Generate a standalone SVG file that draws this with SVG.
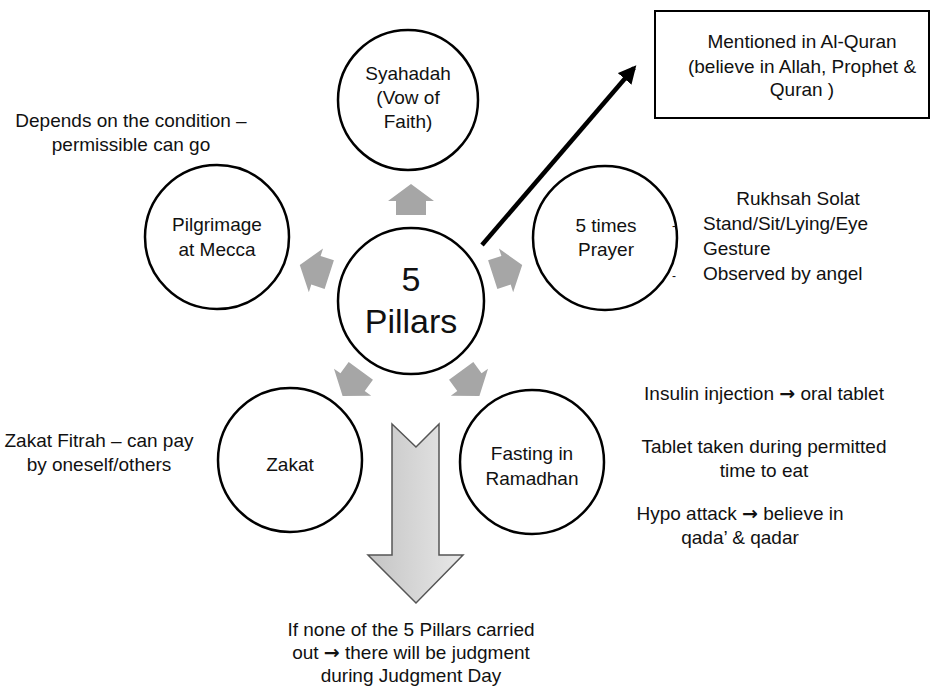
<svg xmlns="http://www.w3.org/2000/svg" width="934" height="693" viewBox="0 0 934 693">
<style>
text{font-family:"Liberation Sans",Arial,sans-serif;font-size:19px;fill:#111;}
.c{text-anchor:middle;}
.ar{font-family:"DejaVu Sans",sans-serif;font-weight:bold;}
.node{fill:#fff;stroke:#000;stroke-width:2.5;}
.ga{fill:#a6a6a6;}
</style>
<defs>
<marker id="ah" viewBox="0 0 10 10" refX="8" refY="5" markerWidth="4" markerHeight="4" orient="auto" markerUnits="strokeWidth">
<path d="M0,0 L10,5 L0,10 Z" fill="#000"/>
</marker>
<linearGradient id="bg" x1="0" y1="0" x2="1" y2="0">
<stop offset="0" stop-color="#c4c4c4"/>
<stop offset="1" stop-color="#e8e8e8"/>
</linearGradient>
<polygon id="sa" points="-15,15 -15,1 -23,1 0,-16 23,1 15,1 15,15"/>
</defs>
<g id="connectors">
<use href="#sa" class="ga" transform="translate(411,200)"/>
<use href="#sa" class="ga" transform="translate(507,270) rotate(72)"/>
<use href="#sa" class="ga" transform="translate(470,383) rotate(144)"/>
<use href="#sa" class="ga" transform="translate(352,383) rotate(216)"/>
<use href="#sa" class="ga" transform="translate(315,270) rotate(288)"/>
<line x1="482" y1="245" x2="634" y2="68" stroke="#000" stroke-width="4.5" marker-end="url(#ah)"/>
<polygon points="392,424 416,447 439,424 439,555 463,555 416,603 368,555 392,555" fill="url(#bg)" stroke="#555" stroke-width="1.5"/>
</g>
<g id="center">
<circle class="node" cx="411" cy="301" r="73"/>
<text class="c" x="411" y="291" style="font-size:34px">5</text>
<text class="c" x="411" y="333" style="font-size:34px">Pillars</text>
</g>
<g id="syahadah">
<circle class="node" cx="408" cy="100" r="70"/>
<text class="c" x="408" y="80">Syahadah</text>
<text class="c" x="408" y="104">(Vow of</text>
<text class="c" x="408" y="128">Faith)</text>
</g>
<g id="pilgrimage">
<circle class="node" cx="217" cy="237" r="72"/>
<text class="c" x="217" y="231">Pilgrimage</text>
<text class="c" x="217" y="256">at Mecca</text>
</g>
<g id="prayer">
<circle class="node" cx="605" cy="238" r="72"/>
<text class="c" x="606" y="232">5 times</text>
<text class="c" x="606" y="256">Prayer</text>
</g>
<g id="zakat">
<circle class="node" cx="290" cy="460" r="72"/>
<text class="c" x="290" y="471">Zakat</text>
</g>
<g id="fasting">
<circle class="node" cx="532" cy="462" r="72"/>
<text class="c" x="532" y="460">Fasting in</text>
<text class="c" x="532" y="485">Ramadhan</text>
</g>
<g id="quran-box">
<rect x="655" y="11" width="274" height="107" fill="#fff" stroke="#000" stroke-width="2"/>
<text class="c" x="802" y="48">Mentioned in Al-Quran</text>
<text class="c" x="802" y="73">(believe in Allah, Prophet &amp;</text>
<text class="c" x="802" y="96">Quran )</text>
</g>
<g id="notes">
<text class="c" x="131" y="127">Depends on the condition –</text>
<text class="c" x="131" y="151">permissible can go</text>
<text class="c" x="798" y="205">Rukhsah Solat</text>
<text x="672" y="230" style="font-size:12px">-</text>
<text x="703" y="230">Stand/Sit/Lying/Eye</text>
<text x="703" y="255">Gesture</text>
<text x="672" y="280" style="font-size:12px">-</text>
<text x="703" y="280">Observed by angel</text>
<text class="c" x="99" y="447">Zakat Fitrah – can pay</text>
<text class="c" x="99" y="471">by oneself/others</text>
<text class="c" x="764" y="400">Insulin injection <tspan class="ar">→</tspan> oral tablet</text>
<text class="c" x="764" y="453">Tablet taken during permitted</text>
<text class="c" x="764" y="477">time to eat</text>
<text class="c" x="740" y="520">Hypo attack <tspan class="ar">→</tspan> believe in</text>
<text class="c" x="740" y="544">qada’ &amp; qadar</text>
<text class="c" x="411" y="636">If none of the 5 Pillars carried</text>
<text class="c" x="411" y="659">out <tspan class="ar">→</tspan> there will be judgment</text>
<text class="c" x="411" y="682">during Judgment Day</text>
</g>
</svg>
